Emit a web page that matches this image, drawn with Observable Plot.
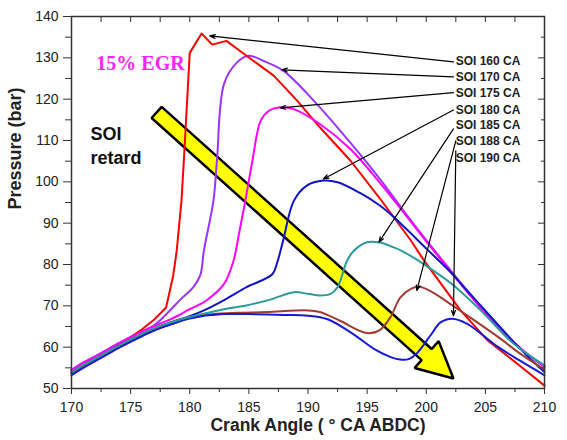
<!DOCTYPE html>
<html>
<head>
<meta charset="utf-8">
<script src="https://cdn.jsdelivr.net/npm/d3@7"></script>
<script src="https://cdn.jsdelivr.net/npm/@observablehq/plot@0.6"></script>
<style>
  html, body { margin: 0; padding: 0; background: #fff; }
  #chart svg { display: block; }
</style>
</head>
<body>
<div id="chart"></div>
<script>
// ---------- Data ----------
const seriesNames = ["SOI 160 CA", "SOI 170 CA", "SOI 175 CA", "SOI 180 CA", "SOI 185 CA", "SOI 188 CA", "SOI 190 CA"];
const seriesColors = ["#ff0000", "#9933ff", "#ff00ff", "#1212c8", "#2a9a9a", "#a03c32", "#1818d8"];
const seriesCurves = ["linear", "catmull-rom", "catmull-rom", "catmull-rom", "catmull-rom", "catmull-rom", "catmull-rom"];

const soi160_x = [170,171,172,173,174,175,176,177,178,178.6,178.9,179.3,179.5,180.0,181.0,181.9,183.1,184.8,187.1,189.1,191.0,193.6,196.1,198.7,199.8,202.9,205.2,207.7,210];
const soi160_y = [54.2,56.0,57.5,59.1,60.7,62.4,64.4,66.7,69.6,77.3,83.4,95.4,105.1,131.2,135.9,133.2,134.1,130.5,125.7,119.6,113.2,105.1,95.9,85.8,81.0,68.9,61.6,56.0,50.7];

const soi170_x = [170,171,172,173,174,175,176,177,178.3,179.2,180.3,180.9,181.2,182.0,182.3,182.9,184.0,185.0,186.2,187.9,190.5,193.6,196.1,198,200,202,204,206,208,210];
const soi170_y = [54.5,56.3,57.8,59.4,61.0,62.5,63.9,65.3,68.8,71.5,74.5,77.5,83.4,95.4,105.1,123.7,128.9,130.5,129.3,126.9,119.6,109.4,100.6,93.3,85.9,78.8,71.8,65.0,59.6,55.3];

const soi175_x = [170,171,172,173,174,175,176,177,178,179,179.8,181.4,182.9,183.7,184.2,184.7,185.3,186.0,186.7,187.5,188.8,191.0,193.6,196.1,198,200,202,204,206,208,210];
const soi175_y = [54.4,56.2,57.7,59.3,60.9,62.4,63.8,65.1,66.3,67.6,68.9,71.3,75.3,80.9,88.0,95.4,105.1,114.8,117.2,118.0,117.6,114.0,107.9,99.7,92.9,85.6,78.5,71.5,65.0,59.7,55.2];

const soi180_x = [170,171,172,173,174,175,176,177,178,179,180,181.2,183.1,184.8,187.0,187.4,187.9,188.8,189.9,191.3,192.5,194.4,196.1,197.2,200.1,202.0,203.2,205,206.9,208.5,210];
const soi180_y = [53.8,55.6,57.1,58.7,60.3,61.8,63.2,64.5,65.6,66.6,67.5,68.9,71.7,74.5,77.7,80.5,85.8,95.4,99.1,100.3,99.9,97.3,94.2,91.6,83.6,78.3,74.5,68.8,62.8,58.0,54.0];

const soi185_x = [170,171,172,173,174,175,176,177,178,179,180,181,183.1,184.8,186.8,188.8,190.0,191.0,191.9,192.5,193.3,193.9,195.0,196.1,197.2,198,200.1,202.2,204.6,207.4,210];
const soi185_y = [53.9,55.7,57.2,58.8,60.4,61.9,63.3,64.6,65.6,66.5,67.3,68.0,69.3,70.1,71.5,73.3,72.9,72.5,72.9,74.5,80.9,83.4,85.4,85.3,84.2,83.2,79.5,75.2,68.9,60.8,55.6];

const soi188_x = [170,171,172,173,174,175,176,177,178,179,180,182,184,186.5,190.0,191.0,192.7,195.0,196.1,197.0,197.8,198.7,199.4,200.4,201.8,203.6,206.3,208,210];
const soi188_y = [53.6,55.4,56.9,58.5,60.1,61.6,63.0,64.3,65.4,66.4,67.2,68.0,68.3,68.5,68.9,68.5,66.4,63.4,64.2,67.4,72.0,74.1,74.6,73.5,70.9,67.4,62.0,58.3,54.6];

const soi190_x = [170,171,172,173,174,175,176,177,178,179,180,181,182,183,185,188,190,191.6,193.6,195.8,197.0,197.8,198.5,199.2,200.4,201.2,202.2,203.5,206.1,208,210];
const soi190_y = [53.2,55.0,56.6,58.2,59.8,61.3,62.7,64.0,65.1,66.1,66.9,67.5,67.8,68.0,68.0,67.8,67.6,66.8,63.6,59.2,57.6,57.0,57.1,58.5,63.0,66.0,66.9,65.6,60.0,56.6,53.2];

const xTicks = [170,175,180,185,190,195,200,205,210];
const yTicks = [50,60,70,80,90,100,110,120,130,140];

// Annotation labels (text anchored at left edge) and leader arrows
const labelTexts = ["SOI 160 CA","SOI 170 CA","SOI 175 CA","SOI 180 CA","SOI 185 CA","SOI 188 CA","SOI 190 CA"];
const labelX = [202.4,202.4,202.4,202.4,202.4,202.4,202.4];
const labelY = [129.1,125.4,121.5,117.4,113.6,109.8,105.8];
const leaderFromX = [202.3,202.3,202.3,202.3,202.3,202.5,202.5];
const leaderFromY = [129.0,125.4,121.6,117.4,112.8,109.9,107.5];
const leaderToX   = [181.7,187.8,187.65,191.3,196.0,199.2,202.3];
const leaderToY   = [135.3,127.1,117.9,100.7,85.4,73.7,67.6];

const noteTexts = ["15% EGR", "SOI", "retard"];
const noteX = [172.1, 171.6, 171.6];
const noteY = [128.6, 111.4, 105.6];

// Big yellow "SOI retard" block arrow: tail centre and tip (data units)
const retardArrowFrom = [177.2, 116.8];
const retardArrowTo = [202.3, 52.4];

// ---------- Layout ----------
const W = 567, H = 440;
const mL = 71, mR = 23, mT = 16, mB = 52;
const xDom = [170, 210], yDom = [50, 140];
const kx = (W - mL - mR) / (xDom[1] - xDom[0]);
const ky = (H - mT - mB) / (yDom[1] - yDom[0]);

// build the arrow polygon in pixel space, then map back to data units
function blockArrow(from, to, halfShaft, headLen, halfHead) {
  const P = ([x, y]) => [(x - xDom[0]) * kx, -(y - yDom[0]) * ky];
  const D = ([px, py]) => ({x: xDom[0] + px / kx, y: yDom[0] - py / ky});
  const s = P(from), t = P(to);
  const dx = t[0] - s[0], dy = t[1] - s[1], L = Math.hypot(dx, dy);
  const u = [dx / L, dy / L], n = [u[1], -u[0]];
  const b = [t[0] - u[0] * headLen, t[1] - u[1] * headLen];
  const pts = [
    [s[0] + n[0] * halfShaft, s[1] + n[1] * halfShaft],
    [b[0] + n[0] * halfShaft, b[1] + n[1] * halfShaft],
    [b[0] + n[0] * halfHead, b[1] + n[1] * halfHead],
    t,
    [b[0] - n[0] * halfHead, b[1] - n[1] * halfHead],
    [b[0] - n[0] * halfShaft, b[1] - n[1] * halfShaft],
    [s[0] - n[0] * halfShaft, s[1] - n[1] * halfShaft]
  ];
  return pts.map(D);
}
const arrowPoly = blockArrow(retardArrowFrom, retardArrowTo, 7.5, 36, 18);

const allSeries = [
  [soi160_x, soi160_y], [soi170_x, soi170_y], [soi175_x, soi175_y], [soi180_x, soi180_y],
  [soi185_x, soi185_y], [soi188_x, soi188_y], [soi190_x, soi190_y]
];
const rows = allSeries.map(([xs, ys], i) => xs.map((x, j) => ({series: seriesNames[i], x, y: ys[j]})));
const drawOrder = [1, 0, 2, 3, 5, 6, 4];

const labels = labelTexts.map((t, i) => ({t, x: labelX[i], y: labelY[i]}));
const leaders = labelTexts.map((t, i) => ({x1: leaderFromX[i], y1: leaderFromY[i], x2: leaderToX[i], y2: leaderToY[i]}));
const notes = noteTexts.map((t, i) => ({t, x: noteX[i], y: noteY[i]}));

const minorX = d3.range(172.5, 210, 5);
const allX = d3.range(170, 210.01, 2.5);
const minorY = d3.range(55, 140, 10);

const font = "'Liberation Sans', Arial, Helvetica, sans-serif";

const chart = Plot.plot({
  width: W, height: H,
  marginLeft: mL, marginRight: mR, marginTop: mT, marginBottom: mB,
  style: {fontFamily: font, background: "#fff", color: "#222"},
  x: {domain: xDom},
  y: {domain: yDom},
  marks: [
    // block arrow (behind curves)
    Plot.line(arrowPoly, {x: "x", y: "y", curve: "linear-closed", fill: "#ffff00", stroke: "#000", strokeWidth: 2.5, strokeLinejoin: "miter"}),
    // curves
    ...drawOrder.map(i => Plot.line(rows[i], {x: "x", y: "y", stroke: seriesColors[i], strokeWidth: 2, curve: seriesCurves[i]})),
    // leaders
    Plot.arrow(leaders, {x1: "x1", y1: "y1", x2: "x2", y2: "y2", stroke: "#000", strokeWidth: 1.2, headLength: 7, headAngle: 40}),
    // labels
    Plot.text(labels, {x: "x", y: "y", text: "t", textAnchor: "start", fontSize: 12, fontWeight: "bold", fill: "#222", dx: 1}),
    Plot.text(notes.slice(0, 1), {x: "x", y: "y", text: "t", textAnchor: "start", fontSize: 20, fontWeight: "bold", fill: "#ff22ff", fontFamily: "'Liberation Serif', 'Times New Roman', serif"}),
    Plot.text(notes.slice(1), {x: "x", y: "y", text: "t", textAnchor: "start", fontSize: 18, fontWeight: "bold", fill: "#111"}),
    // frame & axes
    Plot.frame({stroke: "#333", strokeWidth: 1.5}),
    Plot.axisX({ticks: xTicks, tickSize: 6, tickPadding: 8, fontSize: 14, label: null, stroke: "#333", fill: "#222"}),
    Plot.axisX({ticks: minorX, tickSize: 4, text: null, label: null, stroke: "#333"}),
    Plot.axisX({anchor: "top", ticks: allX, tickSize: -5, text: null, label: null, stroke: "#333"}),
    Plot.axisY({ticks: yTicks, tickSize: 8, tickPadding: 5, fontSize: 14, label: null, stroke: "#333", fill: "#222"}),
    Plot.axisY({ticks: minorY, tickSize: 6, text: null, label: null, stroke: "#333"}),
    Plot.axisY({anchor: "right", ticks: yTicks, tickSize: -7, text: null, label: null, stroke: "#333"}),
    Plot.axisY({anchor: "right", ticks: minorY, tickSize: -4, text: null, label: null, stroke: "#333"}),
    // axis titles
    Plot.text(["Crank Angle ( \u00B0 CA ABDC)"], {frameAnchor: "bottom", dy: 42, dx: 10, fontSize: 17.5, fontWeight: "bold", fill: "#222"}),
    Plot.text(["Pressure (bar)"], {frameAnchor: "left", rotate: -90, dx: -56, dy: 7, fontSize: 18, fontWeight: "bold", fill: "#222"})
  ]
});
document.getElementById("chart").appendChild(chart);
</script>
</body>
</html>
